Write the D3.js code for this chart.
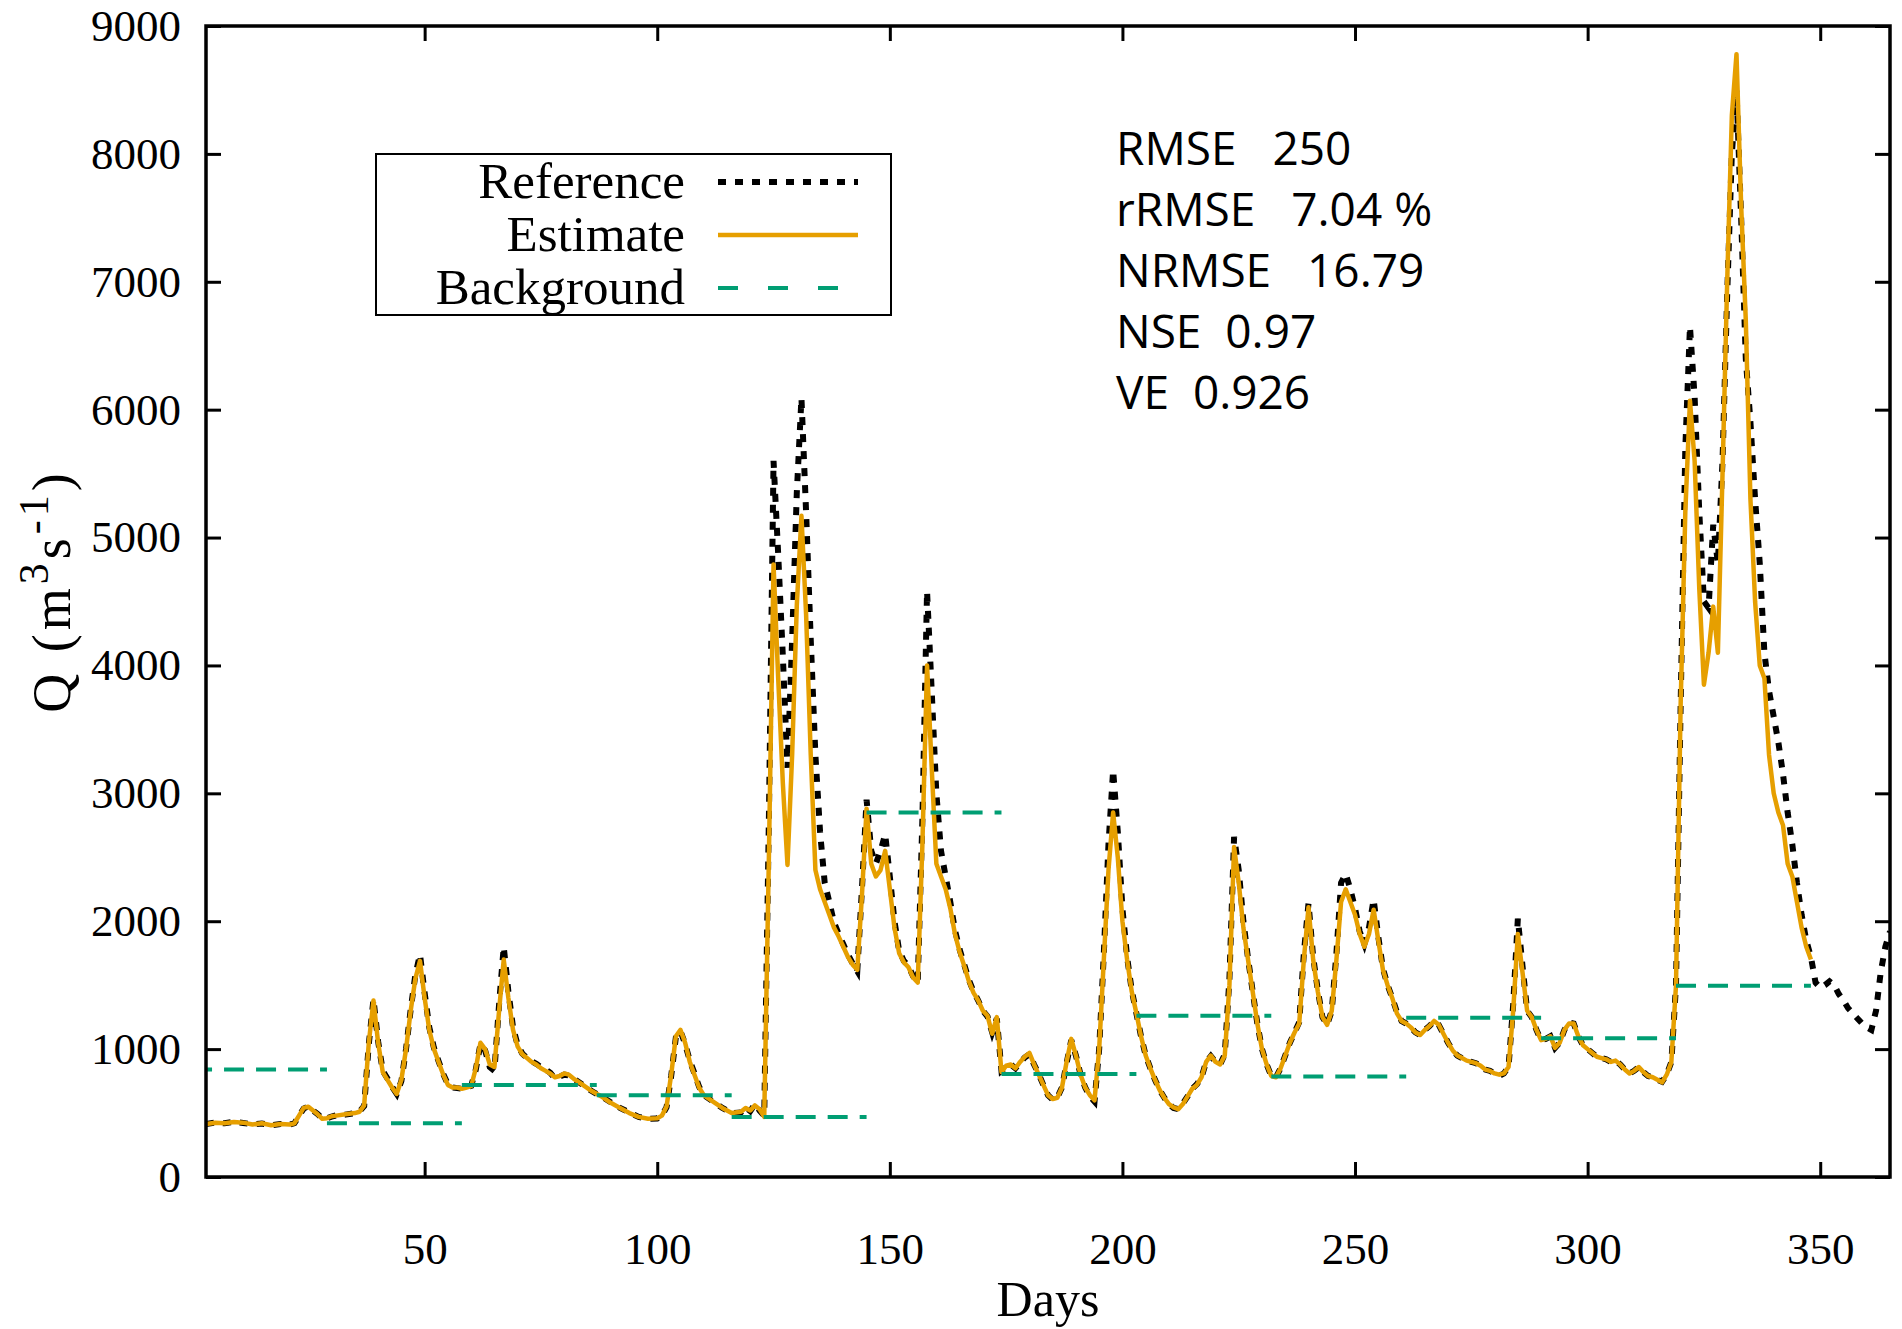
<!DOCTYPE html>
<html>
<head>
<meta charset="utf-8">
<script src="https://cdn.jsdelivr.net/npm/d3@7"></script>
<style>
  body { margin: 0; background: #fff; }
  svg { display: block; }
</style>
</head>
<body>
<svg id="chart" width="1902" height="1329"></svg>
<script>
// Daily discharge, simulated vs. observed
const days = [
  3, 5, 7, 9, 11, 13, 15, 17, 19, 21, 22, 23, 24, 25, 26, 27, 28, 29, 30, 31, 33, 35, 36, 37, 38, 39, 40,
  41, 42, 43, 44, 45, 46, 47, 48, 49, 50, 51, 52, 53, 54, 55, 56, 57, 58, 59, 60,
  61, 62, 63, 64, 65, 66, 67, 68, 69, 70, 71, 72, 73, 74, 75, 76, 77, 78, 79, 80,
  81, 82, 84, 86, 88, 90, 92, 94, 96, 98, 100,
  101, 102, 103, 104, 105, 106, 107, 108, 109, 110, 112, 114, 116, 118, 119, 120,
  121, 122, 123, 124, 125, 126, 127, 128, 129, 130, 131, 132, 133, 134, 135, 136, 137, 138, 139, 140,
  141, 142, 143, 144, 145, 146, 147, 148, 149, 150, 151, 152, 153, 154, 155, 156, 157, 158, 159, 160,
  161, 162, 163, 164, 165, 166, 167, 168, 169, 170, 171, 172, 173, 174, 175, 176, 177, 178, 179, 180,
  181, 182, 183, 184, 185, 186, 187, 188, 189, 190, 191, 192, 193, 194, 195, 196, 197, 198, 199, 200,
  201, 202, 203, 204, 205, 206, 207, 208, 209, 210, 211, 212, 213, 214, 215, 216, 217, 218, 219, 220,
  221, 222, 223, 224, 225, 226, 227, 228, 229, 230, 231, 232, 233, 234, 235, 236, 237, 238, 239, 240,
  241, 242, 243, 244, 245, 246, 247, 248, 249, 250, 251, 252, 253, 254, 255, 256, 257, 258, 259, 260,
  261, 262, 263, 264, 265, 266, 267, 268, 269, 270, 271, 272, 273, 274, 275, 276, 277, 278, 279, 280,
  281, 282, 283, 284, 285, 286, 287, 288, 289, 290, 291, 292, 293, 294, 295, 296, 297, 298, 299, 300,
  301, 302, 303, 304, 305, 306, 307, 308, 309, 310, 311, 312, 313, 314, 315, 316, 317, 318, 319, 320,
  321, 322, 323, 324, 325, 326, 327, 328, 329, 330, 331, 332, 333, 334, 335, 336, 337, 338, 339, 340,
  341, 342, 343, 344, 345, 346, 347, 348, 349, 350, 351, 352, 353, 354, 355, 356, 357, 358, 359, 360,
  361, 362, 363, 364, 365
];

const referenceQ = [
  415, 425, 420, 432, 422, 412, 418, 405, 414, 410, 420, 478, 535, 552, 520, 492, 458, 460, 472, 482, 488, 500, 512, 555, 1040, 1390, 1060,
  830, 770, 705, 650, 750, 1000, 1310, 1580, 1740, 1440, 1170, 1010, 905, 805, 725, 700, 695, 690, 700, 712,
  840, 1040, 990, 860, 830, 1350, 1800, 1450, 1170, 1030, 965, 930, 905, 885, 860, 840, 815, 770, 785, 800,
  795, 770, 720, 670, 630, 585, 540, 505, 470, 455, 458,
  480, 545, 790, 1090, 1140, 1040, 910, 810, 705, 640, 590, 540, 500, 505, 545, 515,
  570, 520, 480, 2800, 5600, 4870, 4070, 3200, 4200, 5350, 6090, 5200, 4200, 3300, 2700, 2300, 2150, 1990, 1900, 1820,
  1740, 1670, 1610, 2250, 2950, 2550, 2450, 2550, 2680, 2350, 2000, 1770, 1690, 1650, 1570, 1520, 2800, 4580, 3800, 3000,
  2550, 2350, 2150, 1930, 1780, 1660, 1540, 1450, 1380, 1300, 1255, 1130, 1240, 830, 860, 880, 850, 895, 935, 960,
  880, 805, 720, 640, 605, 620, 700, 890, 1070, 950, 800, 700, 630, 590, 1000, 1750, 2600, 3180, 2700, 2100,
  1720, 1460, 1280, 1100, 950, 850, 760, 680, 620, 570, 540, 530, 575, 630, 690, 725, 780, 900, 945, 900,
  880, 960, 1550, 2660, 2400, 2000, 1710, 1450, 1200, 1000, 880, 790, 780, 850, 950, 1050, 1130, 1210, 1750, 2140,
  1720, 1460, 1250, 1190, 1300, 1750, 2300, 2370, 2250, 2100, 1920, 1820, 1950, 2170, 1880, 1630, 1500, 1400, 1290, 1220,
  1200, 1170, 1130, 1110, 1150, 1180, 1220, 1190, 1120, 1050, 990, 950, 930, 910, 900, 890, 870, 840, 830, 810,
  790, 810, 860, 1350, 2020, 1650, 1300, 1250, 1150, 1070, 1080, 1100, 1010, 1050, 1150, 1210, 1200, 1100, 1030, 1000,
  970, 940, 930, 920, 900, 910, 880, 840, 810, 830, 860, 820, 790, 780, 760, 745, 800, 900, 1500, 3700,
  5700, 6650, 6100, 5200, 4500, 4450, 5100, 4800, 5600, 6900, 8000, 8500, 7500, 6400, 5900, 5300, 4800, 4100, 3800, 3600,
  3400, 3150, 2850, 2600, 2300, 2050, 1850, 1720, 1520, 1480, 1500, 1530, 1500, 1430, 1380, 1320, 1280, 1240, 1200, 1170,
  1150, 1300, 1600, 1800, 1920
];

const estimateQ = [
  415, 425, 420, 430, 425, 410, 420, 405, 415, 410, 420, 480, 540, 550, 520, 490, 455, 460, 475, 480, 490, 500, 510, 560, 1050, 1380, 1050,
  820, 760, 700, 650, 760, 1000, 1300, 1550, 1690, 1400, 1150, 1000, 900, 800, 720, 700, 700, 690, 700, 710,
  850, 1050, 1000, 880, 860, 1300, 1700, 1400, 1150, 1020, 960, 930, 900, 880, 850, 830, 810, 780, 790, 810,
  800, 770, 720, 670, 630, 580, 540, 500, 470, 455, 460,
  480, 550, 800, 1100, 1150, 1050, 900, 800, 700, 640, 590, 540, 500, 510, 540, 520,
  560, 530, 470, 2500, 4790, 3900, 3080, 2440, 3300, 4470, 5170, 4400, 3300, 2400, 2250, 2150, 2050, 1950, 1880, 1800,
  1720, 1660, 1620, 2200, 2880, 2450, 2350, 2400, 2550, 2250, 1950, 1750, 1680, 1640, 1560, 1520, 2600, 4000, 3200, 2450,
  2350, 2250, 2100, 1900, 1760, 1650, 1530, 1440, 1380, 1300, 1260, 1120, 1250, 820, 870, 880, 850, 900, 940, 970,
  880, 800, 720, 640, 610, 620, 700, 900, 1080, 950, 800, 700, 640, 600, 1000, 1700, 2400, 2850, 2500, 2000,
  1700, 1450, 1280, 1100, 950, 850, 760, 680, 620, 570, 545, 530, 570, 630, 690, 720, 780, 900, 950, 900,
  880, 950, 1500, 2580, 2300, 1950, 1700, 1450, 1200, 1000, 880, 790, 780, 850, 950, 1050, 1130, 1200, 1700, 2110,
  1700, 1450, 1250, 1190, 1300, 1700, 2150, 2250, 2150, 2050, 1900, 1800, 1900, 2090, 1850, 1620, 1500, 1400, 1280, 1220,
  1200, 1170, 1130, 1110, 1150, 1180, 1220, 1190, 1120, 1050, 990, 950, 930, 910, 900, 890, 870, 840, 830, 810,
  800, 810, 860, 1300, 1900, 1600, 1300, 1250, 1150, 1070, 1080, 1100, 1010, 1050, 1150, 1200, 1200, 1100, 1030, 1000,
  970, 940, 930, 920, 900, 910, 880, 840, 810, 830, 860, 820, 790, 780, 760, 740, 800, 900, 1500, 3700,
  5200, 6070, 5600, 4600, 3850, 4100, 4460, 4100, 5500, 7000, 8300, 8780, 7600, 6700, 5300, 4500, 4000, 3900, 3300, 3000,
  2850, 2750, 2450, 2350, 2150, 1950, 1800, 1700, null, null, null, null, null, null, null, null, null, null, null, null,
  null, null, null, null, null
];

// Background (prior) discharge: constant over consecutive 29-day windows
const backgroundStartDay = [0, 29, 58, 87, 116, 145, 174, 203, 232, 261, 290, 319];
const backgroundEndDay   = [29, 58, 87, 116, 145, 174, 203, 232, 261, 290, 319, 348];
const backgroundQ        = [840, 420, 720, 640, 470, 2850, 805, 1260, 785, 1245, 1085, 1495];

const yTickValues = [0, 1000, 2000, 3000, 4000, 5000, 6000, 7000, 8000, 9000];
const xTickValues = [50, 100, 150, 200, 250, 300, 350];

const legendNames = ["Reference", "Estimate", "Background"];

const metricNames  = ["RMSE", "rRMSE", "NRMSE", "NSE", "VE"];
const metricValues = ["250", "7.04 %", "16.79", "0.97", "0.926"];
const metricGaps   = ["   ", "   ", "   ", "  ", "  "];

// ---- layout & styles ----
const plot = { left: 206, right: 1890, top: 26, bottom: 1177 };
const serif = "'Liberation Serif', 'Times New Roman', serif";
const sans = "'Open Sans', 'Noto Sans', sans-serif";
const colRef = "#000000", colEst = "#E69F00", colBg = "#009E73";

const svg = d3.select("#chart");
svg.append("rect").attr("width", 1902).attr("height", 1329).attr("fill", "#fff");

const x = d3.scaleLinear().domain([3, 365]).range([plot.left, plot.right]);
const y = d3.scaleLinear().domain([0, 9000]).range([plot.bottom, plot.top]);

svg.append("defs").append("clipPath").attr("id", "plot-clip")
  .append("rect")
  .attr("x", plot.left).attr("y", plot.top)
  .attr("width", plot.right - plot.left).attr("height", plot.bottom - plot.top);

// ---- axes (inward ticks, mirrored on top/right) ----
const tickLen = 15;
function styleAxis(g) {
  g.select(".domain").remove();
  g.selectAll(".tick line").attr("stroke", "#000").attr("stroke-width", 3);
  g.selectAll(".tick text").attr("fill", "#000").attr("font-family", serif).attr("font-size", 45);
}

svg.append("g")
  .attr("transform", `translate(${plot.left},0)`)
  .call(d3.axisLeft(y).tickValues(yTickValues).tickSize(-tickLen).tickPadding(25).tickFormat(d3.format("d")))
  .call(styleAxis);

svg.append("g")
  .attr("transform", `translate(${plot.right},0)`)
  .call(d3.axisRight(y).tickValues(yTickValues).tickSize(-tickLen).tickFormat(""))
  .call(styleAxis);

svg.append("g")
  .attr("transform", `translate(0,${plot.bottom})`)
  .call(d3.axisBottom(x).tickValues(xTickValues).tickSize(-tickLen).tickPadding(55).tickFormat(d3.format("d")))
  .call(styleAxis);

svg.append("g")
  .attr("transform", `translate(0,${plot.top})`)
  .call(d3.axisTop(x).tickValues(xTickValues).tickSize(-tickLen).tickFormat(""))
  .call(styleAxis);

// ---- series ----
const refPts = days.map((d, i) => ({ d, v: referenceQ[i] }));
const estPts = days.map((d, i) => ({ d, v: estimateQ[i] }));
const line = d3.line().defined(p => p.v != null).x(p => x(p.d)).y(p => y(p.v));

const series = svg.append("g").attr("clip-path", "url(#plot-clip)");

series.append("path").datum(refPts)
  .attr("d", line).attr("fill", "none")
  .attr("stroke", colRef).attr("stroke-width", 6).attr("stroke-dasharray", "8,9");

series.append("path").datum(estPts)
  .attr("d", line).attr("fill", "none")
  .attr("stroke", colEst).attr("stroke-width", 4.5).attr("stroke-linejoin", "round");

series.selectAll("line.bg").data(backgroundQ).join("line")
  .attr("class", "bg")
  .attr("x1", (v, i) => x(backgroundStartDay[i]))
  .attr("x2", (v, i) => x(backgroundEndDay[i]))
  .attr("y1", v => y(v)).attr("y2", v => y(v))
  .attr("stroke", colBg).attr("stroke-width", 4).attr("stroke-dasharray", "20,12");

// ---- frame ----
svg.append("rect")
  .attr("x", plot.left).attr("y", plot.top)
  .attr("width", plot.right - plot.left).attr("height", plot.bottom - plot.top)
  .attr("fill", "none").attr("stroke", "#000").attr("stroke-width", 3.5);

// ---- axis titles ----
svg.append("text")
  .attr("x", 1048).attr("y", 1316)
  .attr("text-anchor", "middle")
  .attr("font-family", serif).attr("font-size", 50)
  .text("Days");

const yTitle = svg.append("text")
  .attr("transform", "translate(70,591) rotate(-90)")
  .attr("text-anchor", "middle")
  .attr("font-family", serif).attr("font-size", 54)
  .attr("letter-spacing", 4);
yTitle.append("tspan").text("Q (m");
yTitle.append("tspan").attr("font-size", 42).attr("dy", -22).text("3");
yTitle.append("tspan").attr("dy", 22).text("s");
yTitle.append("tspan").attr("font-size", 42).attr("dy", -22).text("-1");
yTitle.append("tspan").attr("dy", 22).text(")");

// ---- legend ----
const legend = svg.append("g");
legend.append("rect")
  .attr("x", 376).attr("y", 154).attr("width", 515).attr("height", 161)
  .attr("fill", "#fff").attr("stroke", "#000").attr("stroke-width", 2);

const legendStyles = [
  { color: colRef, width: 6, dash: "8,9" },
  { color: colEst, width: 4.5, dash: null },
  { color: colBg, width: 4, dash: "20,30" }
];
legendNames.forEach((name, i) => {
  const base = 198 + i * 53;
  legend.append("text")
    .attr("x", 685).attr("y", base)
    .attr("text-anchor", "end")
    .attr("font-family", serif).attr("font-size", 51)
    .text(name);
  const s = legendStyles[i];
  legend.append("line")
    .attr("x1", 718).attr("x2", 858)
    .attr("y1", base - 16).attr("y2", base - 16)
    .attr("stroke", s.color).attr("stroke-width", s.width)
    .attr("stroke-dasharray", s.dash);
});

// ---- goodness-of-fit metrics ----
const metrics = svg.append("g")
  .attr("font-family", sans).attr("font-size", 46).attr("fill", "#000");
metricNames.forEach((name, i) => {
  metrics.append("text")
    .attr("x", 1116).attr("y", 165 + i * 61)
    .style("white-space", "pre")
    .text(name + metricGaps[i] + metricValues[i]);
});
</script>
</body>
</html>
